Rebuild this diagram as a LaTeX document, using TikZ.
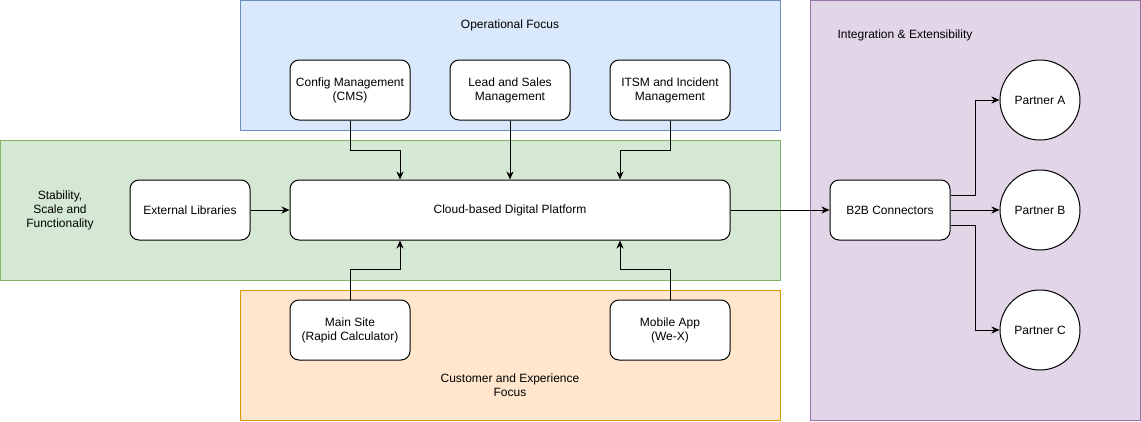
\documentclass[tikz,border=0pt]{standalone}
\usepackage{fontspec}
\setmainfont{Liberation Sans}
\usetikzlibrary{arrows.meta,positioning}
\definecolor{bluefill}{HTML}{DAE8FC}\definecolor{bluedraw}{HTML}{6C8EBF}
\definecolor{greenfill}{HTML}{D5E8D4}\definecolor{greendraw}{HTML}{82B366}
\definecolor{orangefill}{HTML}{FFE6CC}\definecolor{orangedraw}{HTML}{D79B00}
\definecolor{purplefill}{HTML}{E1D5E7}\definecolor{purpledraw}{HTML}{9673A6}
\begin{document}
\begin{tikzpicture}[x=1pt,y=-1pt,
  font=\fontsize{12}{14}\selectfont,
  container/.style={draw, line width=1pt, inner sep=0pt},
  box/.style={draw, line width=1pt, fill=white, rounded corners=9pt, minimum width=120pt, minimum height=60pt, align=center, inner sep=0pt},
  partner/.style={draw, line width=1pt, fill=white, circle, minimum size=80pt, inner sep=0pt},
  lbl/.style={align=center, inner sep=0pt},
  arr/.style={line width=1pt, -{Stealth[length=8pt,width=7pt,inset=2.5pt]}}]
\useasboundingbox (0,0) rectangle (1141,421);
% containers
\node[container, fill=bluefill, draw=bluedraw, minimum width=540pt, minimum height=130pt] (opbox) at (510.5,65.5) {};
\node[container, fill=greenfill, draw=greendraw, minimum width=780pt, minimum height=140pt] (stbox) at (390.5,210.5) {};
\node[container, fill=orangefill, draw=orangedraw, minimum width=540pt, minimum height=130pt] (cubox) at (510.5,355.5) {};
\node[container, fill=purplefill, draw=purpledraw, minimum width=330pt, minimum height=420pt] (inbox) at (975.5,210.5) {};
% labels
\node[lbl] (oplbl) at (510,25) {Operational Focus};
\node[lbl] (stlbl) at (60,210) {Stability,\\Scale and\\Functionality};
\node[lbl] (culbl) at (510,385) {Customer and Experience\\Focus};
\node[lbl] (inlbl) at (905,35) {Integration \& Extensibility};
% nodes
\node[box] (cms) at (350,90) {Config Management\\(CMS)};
\node[box] (lead) at (510,90) {Lead and Sales\\Management};
\node[box] (itsm) at (670,90) {ITSM and Incident\\Management};
\node[box] (ext) at (190,210) {External Libraries};
\node[box, minimum width=440pt] (plat) at (510,210) {Cloud-based Digital Platform};
\node[box] (main) at (350,330) {Main Site\\(Rapid Calculator)};
\node[box] (mob) at (670,330) {Mobile App\\(We-X)};
\node[box] (b2b) at (890,210) {B2B Connectors};
\node[partner] (pa) at (1040,100) {Partner A};
\node[partner] (pb) at (1040,210) {Partner B};
\node[partner] (pc) at (1040,330) {Partner C};
% connectors
\draw[arr] (cms.south) -- ++(0,30) -| ([xshift=-110pt]plat.north);
\draw[arr] (lead.south) -- (plat.north);
\draw[arr] (itsm.south) -- ++(0,30) -| ([xshift=110pt]plat.north);
\draw[arr] (main.north) -- ++(0,-30) -| ([xshift=-110pt]plat.south);
\draw[arr] (mob.north) -- ++(0,-30) -| ([xshift=110pt]plat.south);
\draw[arr] (ext.east) -- (plat.west);
\draw[arr] (plat.east) -- (b2b.west);
\draw[arr] ([yshift=15pt]b2b.east) -- ++(25,0) |- (pa.west);
\draw[arr] (b2b.east) -- (pb.west);
\draw[arr] ([yshift=-15pt]b2b.east) -- ++(25,0) |- (pc.west);
\end{tikzpicture}
\end{document}
